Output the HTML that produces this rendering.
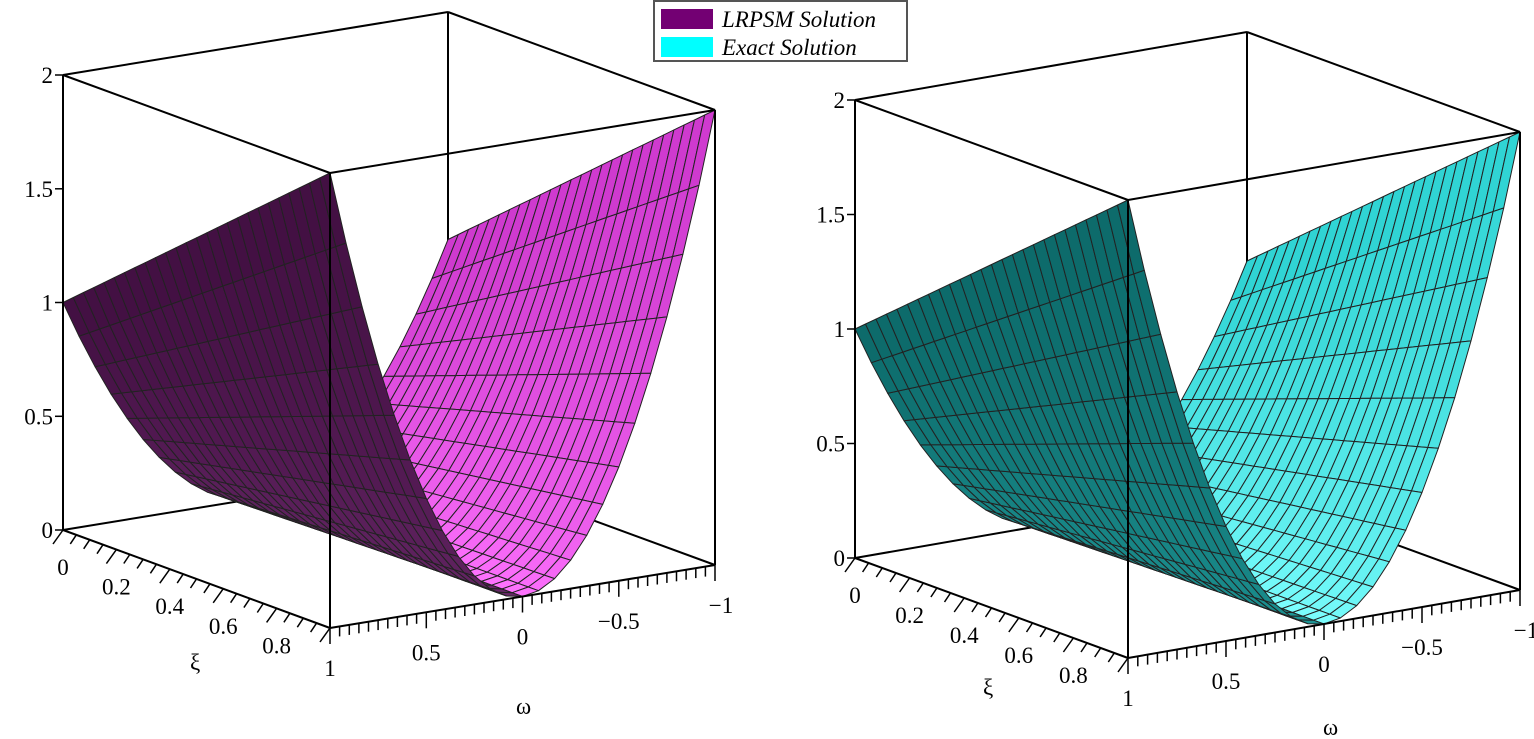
<!DOCTYPE html>
<html><head><meta charset="utf-8"><style>
body{margin:0;background:#fff;width:1534px;height:739px;overflow:hidden}
svg{display:block}
text{font-family:"Liberation Serif",serif;font-size:23px;fill:#000}
</style></head><body>
<svg id="s" width="1534" height="739" viewBox="0 0 1534 739"></svg>
<script>
const S=document.getElementById('s');let out='';
function lerp(a,b,t){return a+(b-a)*t}
function mix(c1,c2,t){return 'rgb('+[0,1,2].map(i=>Math.round(lerp(c1[i],c2[i],t))).join(',')+')'}
function plot(A,BA,CB,zs,cols,xiLab,omLab){
 const P=(xi,om,z)=>[A[0]+xi*BA[0]+(1-om)/2*CB[0], A[1]+xi*BA[1]+(1-om)/2*CB[1]-z*zs];
 const L=(p,q,w)=>`<line x1="${p[0].toFixed(1)}" y1="${p[1].toFixed(1)}" x2="${q[0].toFixed(1)}" y2="${q[1].toFixed(1)}" stroke="#000" stroke-width="${w||2}"/>`;
 const Ab=P(0,1,0),Bb=P(1,1,0),Cb=P(1,-1,0),Db=P(0,-1,0);
 const At=P(0,1,2),Bt=P(1,1,2),Ct=P(1,-1,2),Dt=P(0,-1,2);
 out+=L(Ab,Db)+L(Db,Cb)+L(Db,Dt)+L(Dt,At)+L(Dt,Ct);
 const u=(xi,om)=>om*om*(1+xi);
 const NX=26,NO=24,quads=[];
 for(let i=0;i<NX;i++)for(let j=0;j<NO;j++){
  const x0=i/NX,x1=(i+1)/NX,o0=-1+2*j/NO,o1=-1+2*(j+1)/NO;
  const pts=[[x0,o0],[x1,o0],[x1,o1],[x0,o1]].map(p=>P(p[0],p[1],u(p[0],p[1])));
  const om=(o0+o1)/2,xi=(x0+x1)/2;let c;
  if(om<0){c=mix(cols[0],cols[1],1+om)}else{c=mix(cols[2],cols[3],om)}
  quads.push({d:(om+1)/2*1.0+xi*0.3,pts,c});
 }
 quads.sort((a,b)=>a.d-b.d);
 for(const q of quads)out+=`<polygon points="${q.pts.map(p=>p[0].toFixed(1)+','+p[1].toFixed(1)).join(' ')}" fill="${q.c}" stroke="#222" stroke-width="1" stroke-linejoin="round"/>`;
 out+=L(Ab,At)+L(At,Bt)+L(Bt,Ct)+L(Bb,Bt)+L(Ab,Bb)+L(Bb,Cb)+L(Ct,Cb);
 for(let k=0;k<=4;k++){const p=P(0,1,k*0.5);out+=L(p,[p[0]-8,p[1]],1.5);
  out+=`<text x="${p[0]-10}" y="${p[1]+8}" text-anchor="end">${['0','0.5','1','1.5','2'][k]}</text>`;}
 for(let k=0;k<=20;k++){const xi=k/20,p=P(xi,1,0),m=k%4==0;
  out+=L(p,[p[0]-(m?10:6),p[1]+(m?14:9)],1.5);
  if(m&&k<20)out+=`<text x="${p[0]+0}" y="${p[1]+45}" text-anchor="middle">${(xi).toFixed(1).replace(/^0\.0$/,'0')}</text>`;}
 for(let k=0;k<=40;k++){const om=1-k/20,p=P(1,om,0),m=k%10==0;
  out+=L(p,[p[0],p[1]+(m?16:10)],1.5);
  if(m){const lab=['1','0.5','0','\u22120.5','\u22121'][k/10];out+=`<text x="${p[0]+(k==40?6:0)}" y="${p[1]+48}" text-anchor="middle">${lab}</text>`;}}
 out+=`<text x="${xiLab[0]}" y="${xiLab[1]}">ξ</text><text x="${omLab[0]}" y="${omLab[1]}">ω</text>`;
}
plot([63,530],[267,98],[385,-63],227.5,[[205,55,205],[255,115,255],[105,40,105],[65,15,65]],[190,670],[516,714]);
plot([855,558],[273,100],[392,-68],229,[[45,210,210],[125,255,255],[30,150,150],[12,105,105]],[983,695],[1323,735]);
out+=`<rect x="654" y="1" width="253" height="60" fill="#fff" stroke="#555" stroke-width="2"/>
<rect x="661" y="9" width="52" height="20" fill="#730073"/><rect x="661" y="37" width="52" height="20" fill="#00ffff"/>
<text x="722" y="27" font-family="Liberation Serif, serif" font-style="italic" font-size="22">LRPSM Solution</text>
<text x="722" y="55" font-family="Liberation Serif, serif" font-style="italic" font-size="22">Exact Solution</text>`;
S.innerHTML=out;
</script>
</body></html>
